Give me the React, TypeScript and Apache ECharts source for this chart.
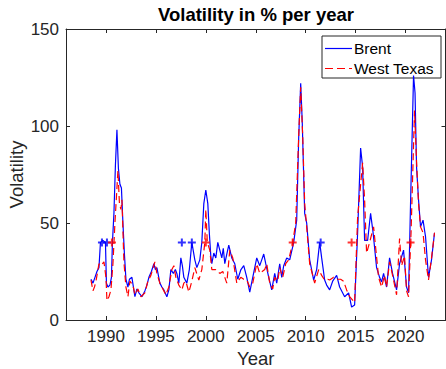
import React, { useEffect, useRef } from 'react';
import * as echarts from 'echarts';

const brentYears = [
  1988.5, 1988.7, 1988.9, 1989.1, 1989.3, 1989.45, 1989.7, 1989.95, 1990.05, 1990.2, 1990.4, 1990.55, 1990.65,
  1990.8, 1990.95, 1991.1, 1991.25, 1991.4, 1991.55, 1991.7, 1991.85, 1992.0, 1992.2, 1992.35, 1992.6, 1992.9,
  1993.1, 1993.3, 1993.6, 1993.9, 1994.1, 1994.3, 1994.55, 1994.8, 1994.95, 1995.1, 1995.4, 1995.6, 1995.8,
  1996.1, 1996.3, 1996.5, 1996.75, 1996.95, 1997.1, 1997.3, 1997.5, 1997.65, 1997.8, 1998.1, 1998.35, 1998.6,
  1998.9, 1999.1, 1999.4, 1999.6, 1999.8, 2000.0, 2000.2, 2000.35, 2000.5, 2000.6, 2000.8, 2001.0, 2001.2,
  2001.4, 2001.6, 2001.75, 2001.9, 2002.1, 2002.3, 2002.6, 2002.9, 2003.2, 2003.5, 2003.8, 2004.1, 2004.4,
  2004.7, 2005.1, 2005.4, 2005.6, 2005.8, 2006.0, 2006.3, 2006.6, 2006.9, 2007.1, 2007.4, 2007.6, 2007.8,
  2008.1, 2008.4, 2008.8, 2009.1, 2009.3, 2009.5, 2009.65, 2009.9, 2010.1, 2010.4, 2010.8, 2011.1, 2011.4,
  2011.6, 2011.9, 2012.1, 2012.4, 2012.7, 2013.1, 2013.4, 2013.9, 2014.3, 2014.6, 2014.9, 2015.2, 2015.5,
  2015.7, 2015.9, 2016.2, 2016.5, 2016.75, 2017.1, 2017.4, 2017.6, 2017.8, 2018.1, 2018.4, 2018.7, 2019.1,
  2019.4, 2019.8, 2020.1, 2020.3, 2020.5, 2020.8, 2020.95, 2021.1, 2021.3, 2021.5, 2021.75, 2022.0, 2022.3,
  2022.6, 2022.9,
];
const brentVals = [
  21, 19, 22, 25, 27, 40, 41, 40, 19, 17, 18, 22, 40,
  55, 80, 98, 78, 70, 68, 50, 34, 21, 17, 21, 22, 12,
  16, 14, 12, 15, 18, 22, 25, 29, 26, 27, 19, 17, 15.5,
  12, 15.5, 26, 24, 26, 24, 19, 32, 28, 22, 19, 26, 40,
  31, 27, 31, 40, 60, 67, 60, 45, 33, 29, 34.5, 32, 40,
  36, 32, 37, 29, 34, 38.6, 32, 29, 21, 25.8, 28, 22, 14.4,
  22, 32, 28, 31, 34, 29, 22, 15.5, 24, 19, 29, 22, 28,
  32, 31, 40, 51.5, 94, 122, 103, 55, 50, 31, 20.6, 26, 40,
  32, 20.6, 18, 15.5, 20, 23, 17, 12, 14, 6.7, 7.7, 45, 88.6,
  79, 41, 41, 55, 45, 27, 22, 19.6, 24, 17, 32, 24, 15.5,
  29, 36, 17, 14, 60, 126, 117, 79, 62, 48, 51.5, 43, 22,
  31, 45,
];

const wtiYears = [
  1988.5, 1988.7, 1988.85, 1989.0, 1989.3, 1989.5, 1989.8, 1990.0, 1990.1, 1990.3, 1990.5, 1990.7, 1990.9,
  1991.2, 1991.35, 1991.5, 1991.6, 1991.8, 1992.0, 1992.2, 1992.4, 1992.7, 1992.9, 1993.2, 1993.5, 1993.9,
  1994.2, 1994.5, 1994.9, 1995.1, 1995.4, 1995.7, 1996.0, 1996.3, 1996.6, 1996.8, 1997.0, 1997.3, 1997.6,
  1997.8, 1998.0, 1998.3, 1998.6, 1998.9, 1999.3, 1999.6, 1999.9, 2000.0, 2000.15, 2000.4, 2000.6, 2001.0,
  2001.4, 2001.7, 2001.9, 2002.1, 2002.4, 2002.7, 2003.1, 2003.5, 2003.8, 2004.1, 2004.4, 2004.7, 2005.1,
  2005.4, 2005.9, 2006.1, 2006.4, 2006.7, 2006.9, 2007.2, 2007.4, 2007.7, 2008.0, 2008.3, 2008.7, 2009.0,
  2009.3, 2009.5, 2009.7, 2009.9, 2010.1, 2010.4, 2010.9, 2011.3, 2011.6, 2011.9, 2012.2, 2012.4, 2012.8,
  2013.1, 2013.5, 2013.8, 2014.1, 2014.4, 2014.9, 2015.2, 2015.7, 2015.9, 2016.1, 2016.4, 2016.8, 2017.0,
  2017.3, 2017.6, 2017.9, 2018.1, 2018.4, 2018.7, 2019.1, 2019.4, 2019.6, 2019.9, 2020.1, 2020.3, 2020.55,
  2020.9, 2021.1, 2021.3, 2021.5, 2021.75, 2022.0, 2022.3, 2022.6, 2022.9,
];
const wtiVals = [
  20.6, 15, 17, 20, 29, 28, 30, 22, 10, 12, 15.5, 29, 50,
  77, 60, 57, 62, 30, 17, 12, 20, 18, 13, 16, 12, 14,
  20, 23, 30, 24, 19, 16, 13, 17, 26, 28, 22, 18, 15.5,
  19, 20, 14.4, 20, 27, 20.6, 26, 40, 57, 40, 36, 26, 26,
  24, 25, 22, 19, 36, 32, 19, 22, 21, 20.6, 17, 19, 29,
  24, 26, 29, 19, 16, 22, 20, 27, 22, 29, 31, 40, 50,
  95, 120, 95, 60, 48, 29, 19, 26, 23, 20.6, 21, 20.6, 22,
  21, 21, 20, 15.5, 12, 9, 53, 81, 62, 34.5, 40, 48, 37.6,
  22, 17, 23, 17, 30, 23, 13, 42, 28, 33, 15, 12, 45,
  108, 82, 60, 48, 45, 31, 20.6, 32, 45,
];

const brentMarkYears = [1989.6, 1990.1, 1997.6, 1998.6, 2011.5];
const brentMarkVals = [40, 40, 40, 40, 40];
const wtiMarkYears = [1990.6, 2000.0, 2008.7, 2014.6, 2020.5];
const wtiMarkVals = [40, 40, 40, 40, 40];

const xTicks = [1990, 1995, 2000, 2005, 2010, 2015, 2020];

const FONT = '"Liberation Sans", Arial, Helvetica, sans-serif';
const AX = '#262626';
const PLUS = 'path://M3,0H5V3H8V5H5V8H3V5H0V3H3Z';

export default function App() {
  const ref = useRef<HTMLDivElement>(null);
  useEffect(() => {
    const chart = echarts.init(ref.current!, null, { renderer: 'svg' });
    const toPairs = (xs: number[], ys: number[]) => xs.map((x, i) => [x, ys[i]]);
    const hidden = { show: false };
    chart.setOption({
      animation: false,
      textStyle: { fontFamily: FONT },
      title: {
        text: 'Volatility in % per year',
        left: 256,
        textAlign: 'center',
        top: 5,
        padding: 0,
        textStyle: { fontSize: 18.5, fontWeight: 'bold', color: '#000', fontFamily: FONT },
      },
      grid: { left: 66, top: 29, width: 379.5, height: 291, containLabel: false, outerBoundsMode: 'none' },
      xAxis: [
        {
          type: 'value', min: 1986, max: 2024, position: 'bottom',
          axisLine: { show: true, onZero: false, lineStyle: { color: AX, width: 1 } },
          axisTick: { show: true, inside: true, length: 4, customValues: xTicks, lineStyle: { color: AX } },
          axisLabel: {
            customValues: xTicks, fontSize: 17, color: AX, margin: 8, fontFamily: FONT,
            formatter: (v: number) => String(v),
          },
          splitLine: hidden,
          name: 'Year', nameLocation: 'middle', nameGap: 29, nameMoveOverlap: false,
          nameTextStyle: { fontSize: 18.5, color: AX, fontFamily: FONT },
        },
        {
          type: 'value', min: 1986, max: 2024, position: 'top',
          axisLine: { show: true, onZero: false, lineStyle: { color: AX, width: 1 } },
          axisTick: { show: true, inside: true, length: 4, customValues: xTicks, lineStyle: { color: AX } },
          axisLabel: hidden,
          splitLine: hidden,
        },
      ],
      yAxis: [
        {
          type: 'value', min: 0, max: 150, interval: 50, position: 'left',
          axisLine: { show: true, onZero: false, lineStyle: { color: AX, width: 1 } },
          axisTick: { show: true, inside: true, length: 4, lineStyle: { color: AX } },
          axisLabel: { fontSize: 17, color: AX, margin: 7, fontFamily: FONT },
          splitLine: hidden,
          name: 'Volatility', nameLocation: 'middle', nameGap: 40, nameMoveOverlap: false,
          nameTextStyle: { fontSize: 18.5, color: AX, fontFamily: FONT },
        },
        {
          type: 'value', min: 0, max: 150, interval: 50, position: 'right',
          axisLine: { show: true, onZero: false, lineStyle: { color: AX, width: 1 } },
          axisTick: { show: true, inside: true, length: 4, lineStyle: { color: AX } },
          axisLabel: hidden,
          splitLine: hidden,
        },
      ],
      series: [
        {
          name: 'Brent', type: 'line', xAxisIndex: 0, yAxisIndex: 0,
          data: toPairs(brentYears, brentVals), symbol: 'none', showSymbol: false,
          lineStyle: { color: '#0000ff', width: 1.2 }, z: 2,
        },
        {
          name: 'West Texas', type: 'line', xAxisIndex: 0, yAxisIndex: 0,
          data: toPairs(wtiYears, wtiVals), symbol: 'none', showSymbol: false,
          lineStyle: { color: '#ff0000', width: 1.2, type: [7, 4] }, z: 3,
        },
        {
          name: 'Brent marks', type: 'scatter', xAxisIndex: 0, yAxisIndex: 0,
          data: toPairs(brentMarkYears, brentMarkVals), symbol: PLUS, symbolSize: 8,
          itemStyle: { color: '#0000ff' }, z: 4,
        },
        {
          name: 'West Texas marks', type: 'scatter', xAxisIndex: 0, yAxisIndex: 0,
          data: toPairs(wtiMarkYears, wtiMarkVals), symbol: PLUS, symbolSize: 8,
          itemStyle: { color: '#ff0000' }, z: 5,
        },
      ],
      graphic: [
        {
          type: 'group', z: 100,
          children: [
            { type: 'rect', shape: { x: 322, y: 36, width: 119, height: 42 }, style: { fill: '#fff', stroke: AX, lineWidth: 1 } },
            { type: 'line', shape: { x1: 325, y1: 48.5, x2: 352, y2: 48.5 }, style: { stroke: '#0000ff', lineWidth: 1.2 } },
            { type: 'line', shape: { x1: 325, y1: 68.5, x2: 352, y2: 68.5 }, style: { stroke: '#ff0000', lineWidth: 1.2, lineDash: [8, 4] } },
            { type: 'text', x: 354, y: 48.5, style: { text: 'Brent', fontSize: 15.5, fontFamily: FONT, fill: '#000', verticalAlign: 'middle', align: 'left' } },
            { type: 'text', x: 354, y: 68.5, style: { text: 'West Texas', fontSize: 15.5, fontFamily: FONT, fill: '#000', verticalAlign: 'middle', align: 'left' } },
          ],
        },
      ],
    });
    return () => chart.dispose();
  }, []);
  return <div ref={ref} style={{ position: 'absolute', left: 0, top: 0, width: 446, height: 369 }} />;
}
